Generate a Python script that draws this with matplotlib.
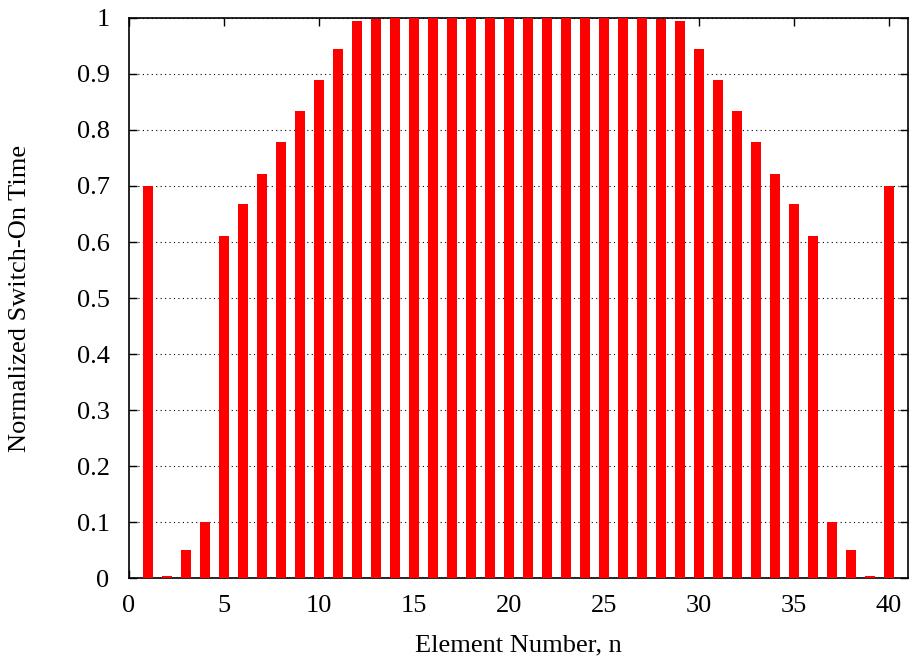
import matplotlib.pyplot as plt

plt.rcParams["font.family"] = ["Liberation Serif", "DejaVu Serif"]

# Element numbers and normalized switch-on times (symmetric)
element = list(range(1, 41))
left_half = [0.700, 0.003, 0.050, 0.100, 0.611, 0.667, 0.722, 0.778, 0.834, 0.890,
             0.945, 0.995, 0.998, 1.0, 1.0, 1.0, 1.0, 1.0, 1.0, 1.0]
switch_on = left_half + left_half[::-1]

x_ticks = [0, 5, 10, 15, 20, 25, 30, 35, 40]
y_ticks = [0, 0.1, 0.2, 0.3, 0.4, 0.5, 0.6, 0.7, 0.8, 0.9, 1]
y_tick_labels = ["0", "0.1", "0.2", "0.3", "0.4", "0.5", "0.6", "0.7", "0.8", "0.9", "1"]

fig = plt.figure(figsize=(9.1, 6.64), dpi=100)
ax = fig.add_axes([0.1418, 0.1295, 0.856, 0.8434])

ax.bar(element, switch_on, width=0.56, color="#ff0000", zorder=3)

ax.set_xlim(0, 41)
ax.set_ylim(0, 1)
ax.set_xticks(x_ticks)
ax.set_yticks(y_ticks)
ax.set_yticklabels(y_tick_labels)

ax.grid(axis="y", color="black", linestyle=(0, (1, 3)), linewidth=0.8, zorder=0)
ax.set_axisbelow(True)

ax.tick_params(direction="in", top=True, right=True, length=6, width=1,
               labelsize=19)
ax.tick_params(axis="y", pad=14)
ax.tick_params(axis="x", pad=12)
for spine in ax.spines.values():
    spine.set_linewidth(1.2)

ax.set_xlabel("Element Number, n", fontsize=19)
ax.set_ylabel("Normalized Switch-On Time", fontsize=19)
ax.xaxis.set_label_coords(0.5, -0.12)
ax.yaxis.set_label_coords(-0.14, 0.5)
ax.xaxis.label.set_va("center")
ax.yaxis.label.set_va("center")

fig.savefig("out.png", dpi=100)
